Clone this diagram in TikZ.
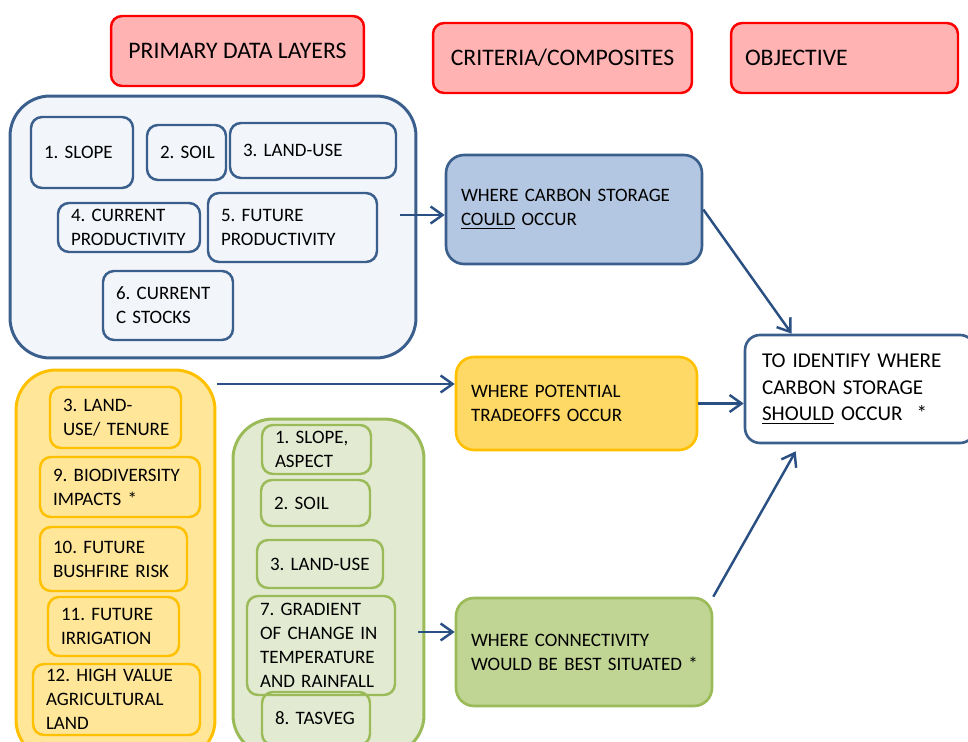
\documentclass[tikz,border=0pt]{standalone}
\usepackage{fontspec}
\setmainfont{Carlito}
\usetikzlibrary{arrows.meta}
\frenchspacing
\hyphenpenalty=10000
\exhyphenpenalty=10000
\definecolor{layerblue}{HTML}{3B5F8D}
\definecolor{layerbluefill}{HTML}{F2F5FA}
\definecolor{couldfill}{HTML}{B4C7E2}
\definecolor{tradeborder}{HTML}{FFC000}
\definecolor{tradefill}{HTML}{FFE699}
\definecolor{tradedark}{HTML}{FFD966}
\definecolor{connborder}{HTML}{9BBB59}
\definecolor{connfill}{HTML}{E3EAD2}
\definecolor{conndark}{HTML}{C0D494}
\definecolor{hdrred}{HTML}{FF0000}
\definecolor{hdrpink}{HTML}{FFB3B3}
\definecolor{arrowblue}{HTML}{2A5083}

\tikzset{
  header/.style={draw=hdrred, fill=hdrpink, line width=1.4pt, rounded corners=0.22cm,
    minimum height=1.4cm, inner xsep=0.28cm, font=\fontsize{13.5}{16}\selectfont},
  group/.style={line width=1.7pt, rounded corners=0.8cm, minimum width=#1},
  layer/.style={draw=#1, line width=1.4pt, rounded corners=0.22cm, align=left,
    inner xsep=0.26cm, inner ysep=0pt, font=\fontsize{10.8}{13.6}\selectfont},
  composite/.style={line width=1.5pt, rounded corners=0.36cm, align=left,
    inner xsep=0.3cm, inner ysep=0pt, font=\fontsize{10.8}{13.6}\selectfont},
  flow/.style={arrowblue, line width=1.4pt, -{Straight Barb[length=2.4mm, width=3.4mm]}}
}

\begin{document}
\begin{tikzpicture}[x=0.02cm, y=-0.02cm]
\useasboundingbox (0,0) rectangle (968,742);

% column headings
\node[header, minimum width=5.06cm] (hprimary) at (237.5,51) {PRIMARY DATA LAYERS};
\node[header, minimum width=5.18cm] (hcriteria) at (562.5,58) {CRITERIA/COMPOSITES};
\node[header, text width=3.98cm, align=left] (hobjective) at (844.5,58) {OBJECTIVE};

% primary data layers
\node[group=8.12cm, draw=layerblue, fill=layerbluefill, minimum height=5.24cm] (primary) at (213,227) {};
\node[layer=layerblue, text width=1.52cm, minimum height=1.42cm] (slope) at (82,152.5) {1. SLOPE};
\node[layer=layerblue, text width=1.06cm, minimum height=1.1cm] (soil) at (186.5,152.5) {2.~SOIL};
\node[layer=layerblue, text width=2.80cm, minimum height=1.1cm] (landuse) at (313,150.5) {3. LAND-USE};
\node[layer=layerblue, text width=2.32cm, minimum height=0.98cm] (curprod) at (129,227.5) {4. CURRENT\\PRODUCTIVITY};
\node[layer=layerblue, text width=2.86cm, minimum height=1.38cm] (futprod) at (292.5,227.5) {5. FUTURE\\PRODUCTIVITY};
\node[layer=layerblue, text width=2.08cm, minimum height=1.38cm] (cstocks) at (168,305.5) {6. CURRENT\\C STOCKS};

% tradeoff layers
\node[group=3.98cm, draw=tradeborder, fill=tradefill, minimum height=7.8cm] (tradegrp) at (115.5,565) {};
\node[layer=tradeborder, text width=2.10cm, minimum height=1.22cm] (tenure) at (115.5,417.5) {3. LAND-\\USE/~TENURE};
\node[layer=tradeborder, text width=2.68cm, minimum height=1.2cm] (biodiv) at (120,487) {9.~BIODIVERSITY\\IMPACTS *};
\node[layer=tradeborder, text width=2.42cm, minimum height=1.28cm] (bushfire) at (113.5,559) {10. FUTURE\\BUSHFIRE RISK};
\node[layer=tradeborder, text width=2.10cm, minimum height=1.18cm] (irrig) at (113.5,626.5) {11. FUTURE\\IRRIGATION};
\node[layer=tradeborder, text width=2.82cm, minimum height=1.42cm] (agland) at (116.5,699.5) {12. HIGH VALUE\\AGRICULTURAL\\LAND};

% connectivity layers
\node[group=3.82cm, draw=connborder, fill=connfill, minimum height=6.72cm] (conngrp) at (328.5,587) {};
\node[layer=connborder, text width=1.66cm, minimum height=0.98cm] (aspect) at (316.5,449.5) {1. SLOPE,\\ASPECT};
\node[layer=connborder, text width=1.66cm, minimum height=0.92cm] (csoil) at (315.5,503) {2. SOIL};
\node[layer=connborder, text width=2.00cm, minimum height=0.96cm] (cland) at (320,564) {3.~LAND-USE};
\node[layer=connborder, text width=2.44cm, minimum height=1.98cm] (gradient) at (321,645.5) {7. GRADIENT\\OF CHANGE IN\\TEMPERATURE\\AND RAINFALL};
\node[layer=connborder, text width=1.64cm, minimum height=1.06cm] (tasveg) at (316,718.5) {8.~TASVEG};

% criteria and objective
\node[composite, draw=layerblue, fill=couldfill, text width=4.52cm, minimum height=2.18cm] (could) at (574,209.5) {WHERE CARBON STORAGE\\\underline{COULD} OCCUR};
\node[composite, draw=tradeborder, fill=tradedark, text width=4.22cm, minimum height=1.86cm] (trade) at (576.5,403.5) {WHERE POTENTIAL\\TRADEOFFS OCCUR};
\node[composite, draw=connborder, fill=conndark, text width=4.52cm, minimum height=2.16cm] (conn) at (584,652) {WHERE CONNECTIVITY\\WOULD~BE~BEST~SITUATED~*};
\node[composite, draw=layerblue, fill=white, rounded corners=0.3cm, inner xsep=0.34cm, text width=3.92cm,
  minimum height=2.16cm, font=\fontsize{12}{15}\selectfont] (obj) at (860,389)
  {TO IDENTIFY WHERE\\CARBON STORAGE\\\underline{SHOULD} OCCUR~~*};

% arrows
\coordinate (fromprimary) at (400,215);
\coordinate (fromtrade) at (217,384);
\coordinate (fromconn) at (418,632);
\draw[flow] (fromprimary) -- (fromprimary -| could.west);
\draw[flow] (fromtrade) -- (fromtrade -| trade.west);
\draw[flow] (fromconn) -- (fromconn -| conn.west);
\draw[flow] (could.east) -- ([xshift=0.96cm]obj.north west);
\draw[flow] (trade.east) -- (trade.east -| obj.west);
\draw[flow] (conn.north east) -- ([xshift=1.04cm,yshift=-0.14cm]obj.south west);
\end{tikzpicture}
\end{document}
